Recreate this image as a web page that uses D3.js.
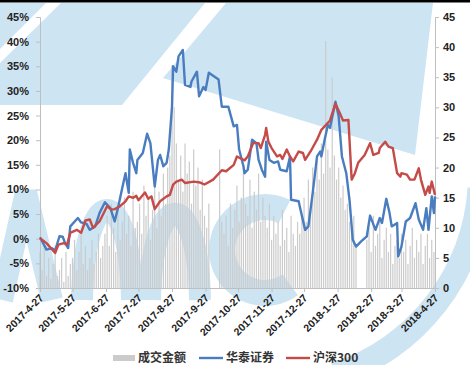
<!DOCTYPE html>
<html lang="zh">
	<head>
		<meta charset="utf-8">
		<title>华泰证券 vs 沪深300</title>
		<style>
			body { margin: 0; background: #fff; }
			#chart { display: block; font-family: "Liberation Sans", Arial, sans-serif; }
			#chart .tick text { font-size: 11px; font-weight: bold; fill: #222; }
			#chart .axis path, #chart .axis line { stroke: #bfbfbf; }
			#chart .legend text { font-family: "Noto Sans CJK SC", sans-serif; font-size: 12px; font-weight: bold; fill: #333; }
		</style>
	</head>
	<body>
		<svg id="chart" width="470" height="365"></svg>
		<script src="https://d3js.org/d3.v7.min.js"></script>
		<script>
			"use strict";

			// 华泰证券 涨跌幅 (%)
			var hzDates = ["2017-04-27","2017-05-03","2017-05-08","2017-05-11","2017-05-15","2017-05-18","2017-05-20","2017-05-23","2017-05-25","2017-06-01",
				"2017-06-04","2017-06-09","2017-06-12","2017-06-17","2017-06-21","2017-06-26","2017-07-01","2017-07-05","2017-07-08","2017-07-11",
				"2017-07-15","2017-07-18","2017-07-19","2017-07-22","2017-07-25","2017-07-26","2017-07-31","2017-08-04","2017-08-07","2017-08-11",
				"2017-08-14","2017-08-16","2017-08-19","2017-08-22","2017-08-24","2017-08-27","2017-08-28","2017-08-31","2017-09-02","2017-09-06",
				"2017-09-08","2017-09-13","2017-09-14","2017-09-19","2017-09-21","2017-09-25","2017-09-27","2017-09-30","2017-10-09","2017-10-12",
				"2017-10-18","2017-10-23","2017-10-26","2017-10-28","2017-11-01","2017-11-02","2017-11-05","2017-11-09","2017-11-13","2017-11-15",
				"2017-11-18","2017-11-21","2017-11-22","2017-11-25","2017-11-29","2017-12-03","2017-12-05","2017-12-11","2017-12-14","2017-12-15",
				"2017-12-22","2017-12-23","2017-12-28","2017-12-31","2018-01-04","2018-01-08","2018-01-11","2018-01-12","2018-01-15","2018-01-18",
				"2018-01-20","2018-01-25","2018-01-28","2018-01-31","2018-02-04","2018-02-07","2018-02-10","2018-02-13","2018-02-18","2018-02-23",
				"2018-02-26","2018-03-03","2018-03-07","2018-03-09","2018-03-13","2018-03-16","2018-03-18","2018-03-23","2018-03-24","2018-03-27",
				"2018-03-31","2018-04-04","2018-04-09","2018-04-12","2018-04-16","2018-04-19","2018-04-21","2018-04-24","2018-04-26","2018-04-27"];
			var hzValues = [0.3,-2.2,-1.9,-2.4,0.5,0.4,-0.8,-1.9,2.5,4.2,
				3.3,3.0,1.8,2.5,5.2,7.4,6.2,3.5,6.2,9.3,
				13.3,9.3,18.1,15.4,13.3,16.0,17.4,21.3,19.4,10.6,
				16.0,17.0,14.7,15.4,18.1,26.8,35.0,33.9,37.0,38.3,
				31.2,30.8,31.9,33.9,28.9,30.8,30.2,33.7,32.3,26.8,
				26.8,22.8,23.1,18.1,14.7,13.3,14.0,20.1,19.4,16.0,
				14.0,12.6,19.7,16.0,15.4,15.7,14.0,13.7,16.7,7.9,
				7.6,6.6,1.8,2.5,9.3,16.7,17.7,16.7,20.1,23.1,
				22.5,27.8,24.8,16.7,13.3,7.9,-0.2,-1.6,-0.5,0.5,
				4.7,1.8,4.2,3.2,8.1,5.2,2.5,3.2,-3.6,-1.6,
				3.5,4.2,7.2,3.9,1.8,6.2,1.8,8.6,5.2,8.6];

			// 沪深300 涨跌幅 (%)
			var hsDates = ["2017-04-27","2017-05-03","2017-05-11","2017-05-14","2017-05-19","2017-05-22","2017-05-25","2017-05-31","2017-06-04","2017-06-08",
				"2017-06-12","2017-06-15","2017-06-21","2017-06-28","2017-07-02","2017-07-05","2017-07-10","2017-07-15","2017-07-18","2017-07-22",
				"2017-07-25","2017-07-27","2017-08-02","2017-08-05","2017-08-08","2017-08-11","2017-08-16","2017-08-22","2017-08-25","2017-08-28",
				"2017-08-31","2017-09-05","2017-09-08","2017-09-16","2017-09-22","2017-09-26","2017-10-04","2017-10-12","2017-10-16","2017-10-23",
				"2017-10-26","2017-11-02","2017-11-05","2017-11-10","2017-11-15","2017-11-17","2017-11-21","2017-11-22","2017-11-24","2017-11-27",
				"2017-12-02","2017-12-05","2017-12-07","2017-12-11","2017-12-14","2017-12-17","2017-12-22","2017-12-26","2017-12-28","2018-01-03",
				"2018-01-08","2018-01-12","2018-01-15","2018-01-20","2018-01-25","2018-01-29","2018-02-01","2018-02-06","2018-02-09","2018-02-12",
				"2018-02-15","2018-02-21","2018-02-26","2018-03-01","2018-03-06","2018-03-07","2018-03-12","2018-03-15","2018-03-19","2018-03-23",
				"2018-03-26","2018-03-27","2018-04-01","2018-04-04","2018-04-08","2018-04-12","2018-04-14","2018-04-18","2018-04-21","2018-04-22",
				"2018-04-24","2018-04-27"];
			var hsValues = [0.1,-0.9,-2.9,-1.2,-0.9,-1.2,1.2,1.8,1.2,3.7,
				3.9,2.2,3.5,6.6,5.9,6.0,6.6,7.6,8.6,8.3,
				8.7,7.8,9.4,8.1,8.6,6.0,7.6,8.6,8.9,11.0,
				11.6,12.0,11.3,11.6,11.4,11.0,12.0,13.9,13.7,15.0,
				16.7,15.9,16.7,19.4,19.4,18.4,21.1,22.5,19.7,18.4,
				16.7,17.0,16.2,18.1,16.7,15.7,17.7,17.4,16.0,18.1,
				20.1,22.1,22.8,24.0,27.4,25.5,24.0,24.1,12.0,13.3,
				15.4,17.0,19.4,17.0,17.4,18.4,19.7,18.7,18.4,13.3,
				12.6,13.3,13.0,12.0,12.0,14.3,12.0,8.9,10.6,9.3,
				11.6,8.9];

			// 成交金额, one bar every two days from volStart
			var volStart = "2017-04-27";
			var volValues = [6,3,8,2,5,1.5,4,7,2,3,5,1,6,2,4,
				5,8,3,6,9,4,7,3,5,8,4,6,9,5,7,
				9,12,7,14,10,6,13,8,11,15,9,12,7,16,10,
				11,14,9,17,12,15,8,13,18,10,16,12,19,14,20,
				22,37,30,24,18,22,16,24,19,21,14,23,17,20,13,
				18,12,10,14,0,0,0,0,23,11,9,12,7,14,10,
				13,17,11,15,20,14,12,18,10,16,13,19,11,15,12,
				10,14,8,12,9,11,7,13,8,10,6,12,9,7,11,
				9,12,15,11,18,14,20,16,22,18,24,19,41,23,20,
				35,22,18,20,15,17,13,14,11,9,12,7,0,0,0,
				0,8,10,6,12,7,9,11,5,8,10,6,9,4,7,
				8,5,9,6,8,4,7,10,5,8,6,9,4,7,9,5,8,6];

			var xTickLabels = ["2017-4-27","2017-5-27","2017-6-27","2017-7-27","2017-8-27","2017-9-27","2017-10-27",
				"2017-11-27","2017-12-27","2018-1-27","2018-2-27","2018-3-27","2018-4-27"];
			var leftTicks = [-10,-5,0,5,10,15,20,25,30,35,40,45];
			var rightTicks = [0,5,10,15,20,25,30,35,40,45];
			var seriesNames = ["成交金额","华泰证券","沪深300"];
			var colors = ["#cbcbcb","#4a7cc0","#c44b48"];

			var parse = d3.timeParse("%Y-%m-%d");
			var svg = d3.select("#chart");

			var x = d3.scaleTime().domain([parse("2017-04-27"), parse("2018-04-27")]).range([40, 435]);
			var yL = d3.scaleLinear().domain([-10, 45]).range([288, 17]);
			var yR = d3.scaleLinear().domain([0, 45]).range([288, 17]);

			// background watermark
			var wm = svg.append("g").attr("fill", "#cde4f3");
			var polys = [
				[[0,3],[46,3],[0,49]],
				[[0,63],[61,3],[205,3],[122,105],[0,105]],
				[[226,3],[433,3],[415,155],[163,78]]
			];
			wm.selectAll("polygon").data(polys).enter().append("polygon")
				.attr("points", function(d){ return d.join(" "); });
			var letters = [
				"M2,300 L26,192 L52,300",
				"M82,300 C84,180 130,180 132,300",
				"M150,300 C152,185 198,185 200,300"
			];
			wm.selectAll("path.letter").data(letters).enter().append("path")
				.attr("class", "letter")
				.attr("d", function(d){ return d; })
				.attr("fill", "none")
				.attr("stroke", "#cde4f3")
				.attr("stroke-width", 22);
			wm.append("path")
				.attr("transform", "translate(265,250)")
				.attr("d", d3.arc().innerRadius(30).outerRadius(56).startAngle(Math.PI * 0.8).endAngle(Math.PI * 2.15));
			wm.append("path")
				.attr("transform", "translate(270,175)")
				.attr("d", d3.arc().innerRadius(198).outerRadius(222).startAngle(Math.PI * 0.52).endAngle(Math.PI * 0.9));

			// volume bars
			svg.append("g")
				.selectAll("rect")
				.data(volValues)
				.enter()
				.append("rect")
				.attr("x", function(d, i){ return x(d3.timeDay.offset(parse(volStart), i * 2)) - 0.6; })
				.attr("y", function(d){ return yR(d); })
				.attr("width", 1.2)
				.attr("height", function(d){ return yR(0) - yR(d); })
				.attr("fill", colors[0]);

			// axes
			svg.append("g").attr("class", "axis").attr("transform", "translate(40,0)")
				.call(d3.axisLeft(yL).tickValues(leftTicks).tickSize(4).tickPadding(7).tickFormat(function(d){ return d + "%"; }));
			svg.append("g").attr("class", "axis").attr("transform", "translate(435,0)")
				.call(d3.axisRight(yR).tickValues(rightTicks).tickSize(4).tickPadding(4));
			var gb = svg.append("g").attr("class", "axis").attr("transform", "translate(0,288)")
				.call(d3.axisBottom(x).tickValues(xTickLabels.map(function(s){ return parse(s.replace(/-(\d)-/, "-0$1-")); }))
					.tickSize(4).tickFormat(function(d, i){ return xTickLabels[i]; }));
			gb.selectAll("text")
				.attr("x", 0).attr("y", 0).attr("dy", "0.35em")
				.attr("transform", "translate(1,8) rotate(-45)")
				.style("text-anchor", "end")
				.style("font-size", "10.5px");
			svg.selectAll(".axis .domain").attr("stroke", "#bfbfbf");

			// lines
			var line = d3.line()
				.x(function(d){ return x(d[0]); })
				.y(function(d){ return yL(d[1]); });
			svg.append("path")
				.datum(hzDates.map(function(s, i){ return [parse(s), hzValues[i]]; }))
				.attr("d", line)
				.attr("fill", "none")
				.attr("stroke", colors[1])
				.attr("stroke-width", 2.4)
				.attr("stroke-linejoin", "round");
			svg.append("path")
				.datum(hsDates.map(function(s, i){ return [parse(s), hsValues[i]]; }))
				.attr("d", line)
				.attr("fill", "none")
				.attr("stroke", colors[2])
				.attr("stroke-width", 2.4)
				.attr("stroke-linejoin", "round");

			// top border
			svg.append("rect").attr("x", 0).attr("y", 0).attr("width", 470).attr("height", 2.5).attr("fill", "#000");

			// legend
			var legendX = [113, 199, 286];
			var lg = svg.append("g").attr("class", "legend");
			lg.append("rect").attr("x", legendX[0]).attr("y", 355).attr("width", 22).attr("height", 6).attr("fill", colors[0]);
			lg.selectAll("line").data([1, 2]).enter().append("line")
				.attr("x1", function(d){ return legendX[d]; })
				.attr("x2", function(d){ return legendX[d] + 24; })
				.attr("y1", 358).attr("y2", 358)
				.attr("stroke", function(d){ return colors[d]; })
				.attr("stroke-width", 2.4);
			lg.selectAll("text").data(seriesNames).enter().append("text")
				.attr("x", function(d, i){ return legendX[i] + (i === 0 ? 25 : 27); })
				.attr("y", 362)
				.text(function(d){ return d; });
		</script>
	</body>
</html>
